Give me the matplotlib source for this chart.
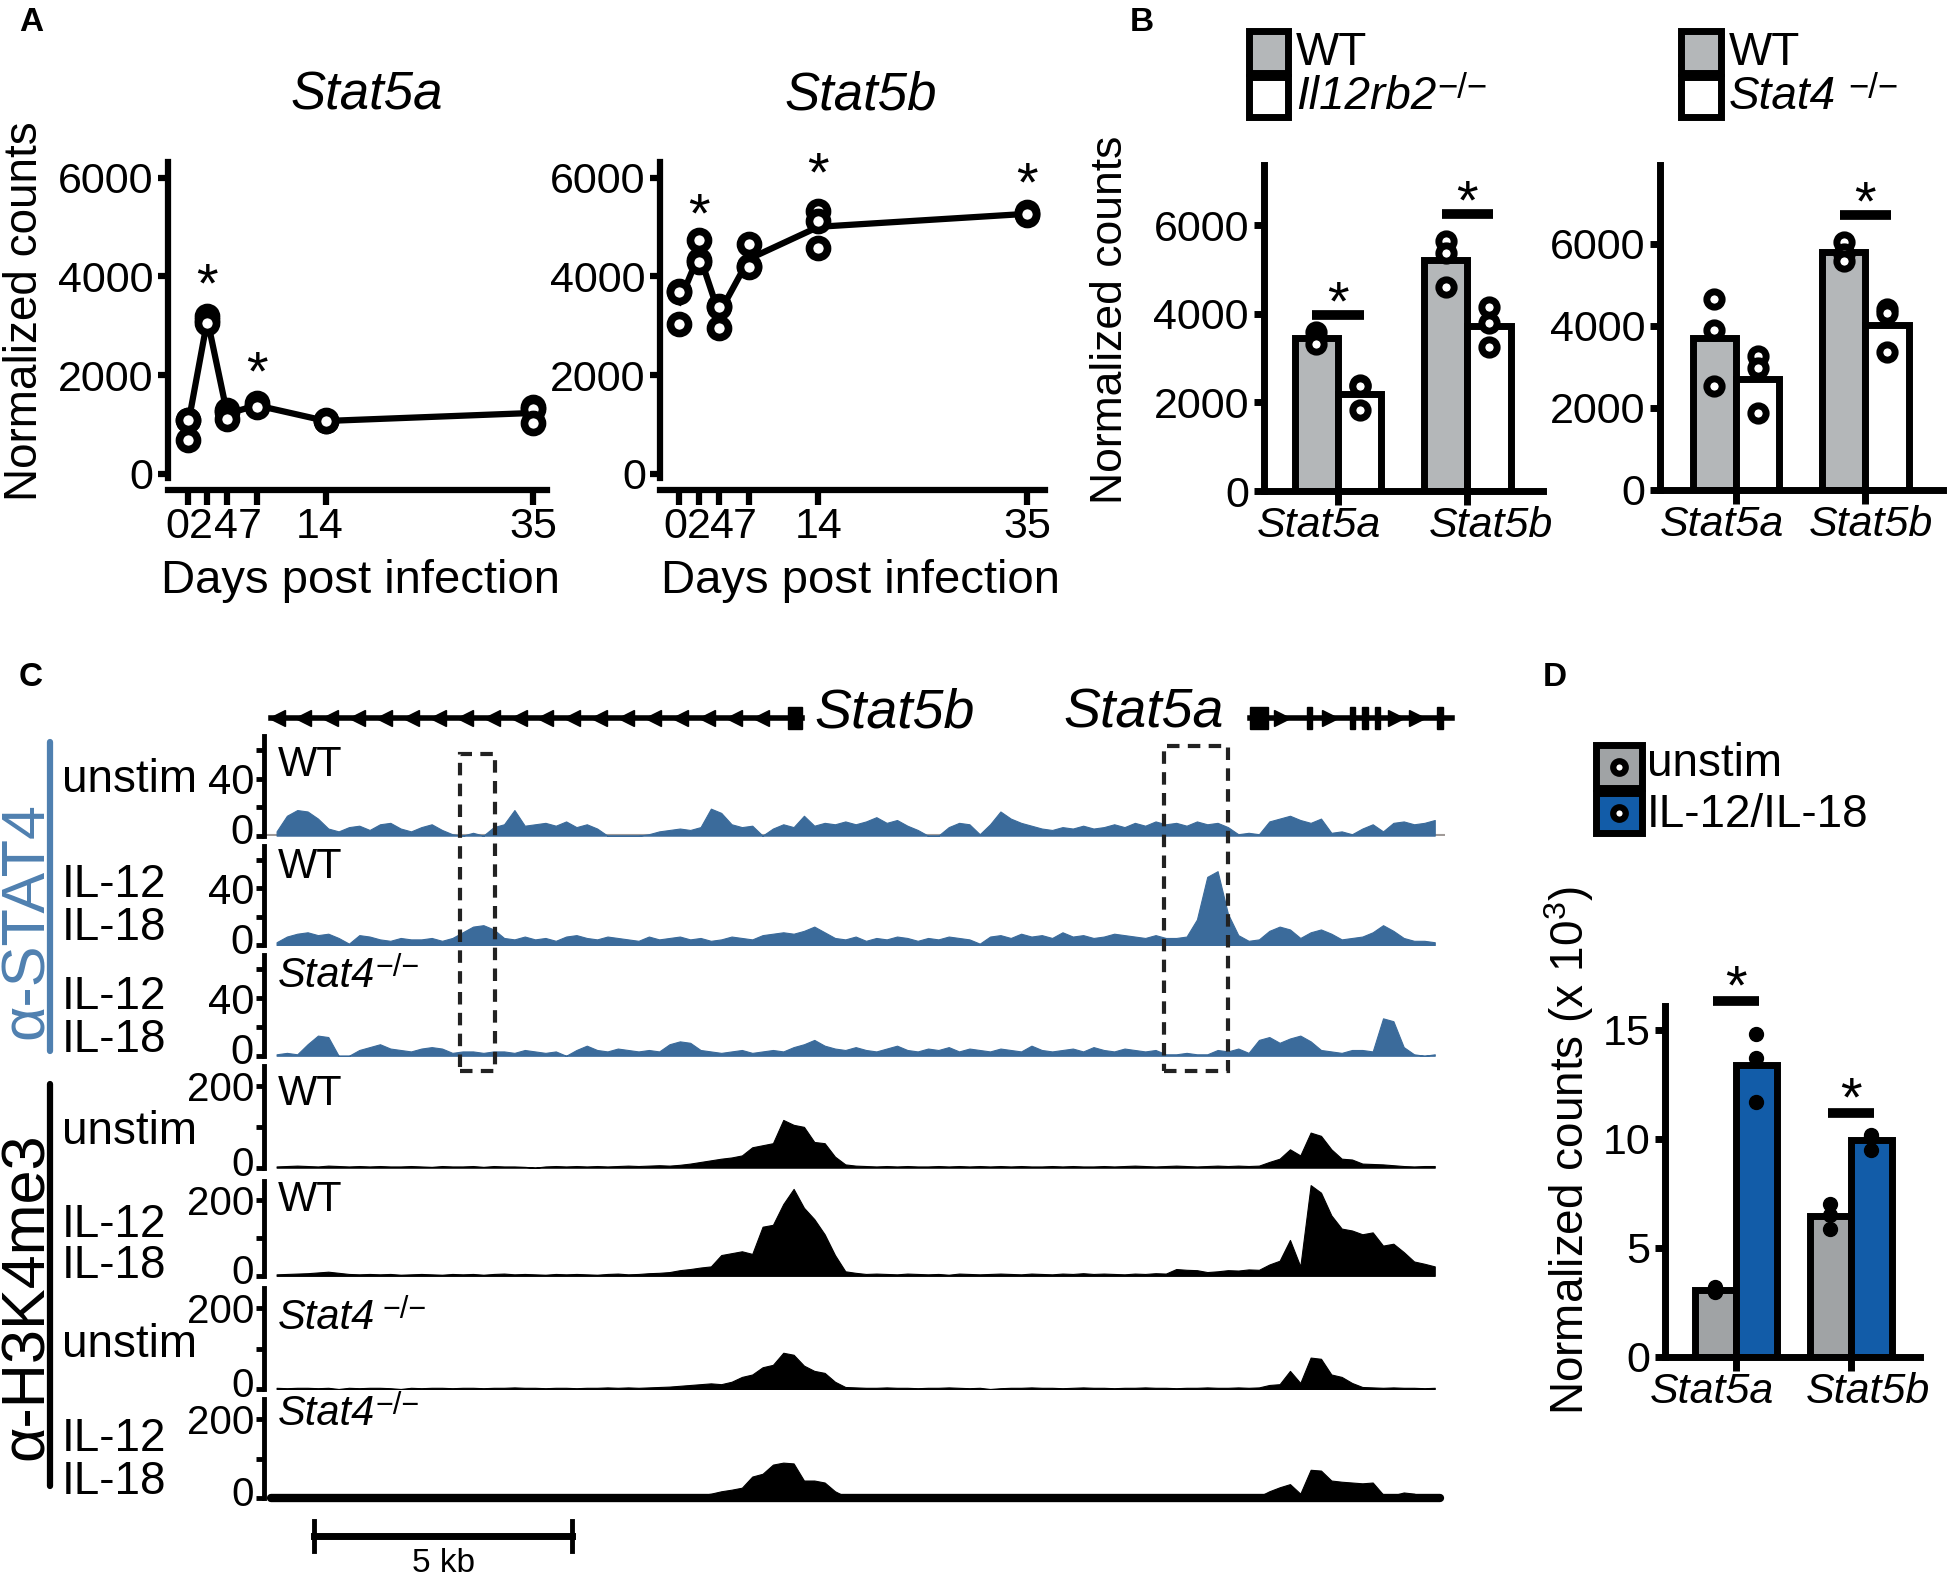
import numpy as np
import matplotlib
matplotlib.use("Agg")
import matplotlib.pyplot as plt
from matplotlib.patches import Rectangle
from matplotlib.lines import Line2D
from matplotlib.text import Annotation
from matplotlib.transforms import blended_transform_factory, ScaledTranslation

plt.rcParams['font.family'] = ['Liberation Sans', 'DejaVu Sans']
plt.rcParams['mathtext.fontset'] = 'custom'
plt.rcParams['mathtext.rm'] = 'Liberation Sans'
plt.rcParams['mathtext.it'] = 'Liberation Sans:italic'

# ---------------- data ----------------
# A: time course, normalized counts (3 replicates per day)
days = [0, 2, 4, 7, 14, 35]
a_stat5a = [[1100, 1080, 680], [3200, 3120, 3050], [1290, 1250, 1110],
            [1430, 1380, 1350], [1080, 1070, 1060], [1350, 1320, 1030]]
a_stat5b = [[3700, 3690, 3040], [4730, 4330, 4300], [3400, 3380, 2950],
            [4650, 4210, 4200], [5320, 5130, 4570], [5300, 5250, 5260]]
a_star_days_5a = [2, 7]
a_star_y_5a = [4150, 2370]
a_star_days_5b = [2, 14, 35]
a_star_y_5b = [5570, 6400, 6200]

# B: WT vs knockouts
genes = ['Stat5a', 'Stat5b']
b1_wt = [[3580, 3450, 3310], [5640, 5370, 4610]]
b1_ko = [[2400, 2370, 1835], [4150, 3800, 3250]]
b2_wt = [[4650, 3890, 2540], [6050, 5760, 5570]]
b2_ko = [[3260, 2975, 1870], [4410, 4320, 3360]]
b1_sig = [3970, 6250]
b2_sig = [None, 6700]

# D: unstim vs IL-12/IL-18 (x 10^3)
d_unstim = [[3.2, 3.0, 2.95], [7.0, 6.5, 5.86]]
d_il = [[14.8, 13.7, 11.7], [10.2, 9.5, 10.1]]
d_sig = [16.35, 11.2]

# C: coverage tracks, 0.2 kb bins
BIN = 0.2
stat4_wt_unstim = [
    3, 14, 18, 17, 12, 5, 3, 6, 7, 4,
    8, 9, 5, 3, 6, 8, 4, 1, 0, 2,
    0, 6, 8, 18, 7, 8, 9, 7, 10, 6,
    8, 5, 0, 0, 0, 0, 1, 3, 4, 5,
    4, 6, 19, 16, 8, 6, 7, 0, 5, 8,
    6, 14, 7, 9, 8, 10, 8, 10, 13, 9,
    11, 7, 4, 0, 0, 6, 9, 8, 1, 8,
    17, 12, 9, 7, 5, 4, 6, 5, 7, 5,
    6, 8, 6, 9, 7, 10, 8, 9, 7, 10,
    8, 9, 6, 1, 2, 1, 10, 12, 14, 11,
    9, 12, 2, 3, 1, 5, 8, 3, 9, 10,
    8, 9, 11]
stat4_wt_il = [
    2, 6, 8, 9, 7, 8, 5, 1, 7, 6,
    4, 3, 5, 4, 4, 5, 3, 5, 9, 13,
    14, 11, 5, 4, 6, 4, 5, 3, 6, 7,
    5, 4, 6, 5, 4, 3, 6, 4, 5, 6,
    4, 5, 3, 4, 6, 5, 4, 7, 8, 9,
    8, 10, 13, 9, 5, 4, 6, 3, 5, 4,
    6, 5, 3, 5, 4, 6, 5, 4, 1, 6,
    7, 5, 8, 6, 7, 5, 9, 6, 7, 5,
    6, 8, 7, 6, 5, 7, 5, 5, 6, 18,
    48, 52, 22, 7, 3, 4, 10, 13, 11, 5,
    9, 11, 8, 4, 5, 6, 9, 14, 10, 5,
    3, 3, 2]
stat4_ko_il = [
    1, 2, 1, 8, 14, 13, 0, 0, 4, 6,
    8, 5, 4, 3, 5, 6, 5, 2, 3, 3,
    2, 3, 3, 2, 4, 3, 2, 3, 0, 4,
    7, 4, 3, 5, 4, 3, 4, 3, 8, 10,
    9, 4, 3, 2, 3, 4, 2, 3, 4, 3,
    6, 8, 11, 7, 5, 4, 6, 4, 3, 5,
    7, 4, 3, 5, 4, 6, 3, 5, 4, 3,
    5, 4, 3, 7, 4, 3, 4, 5, 3, 6,
    4, 3, 5, 4, 3, 4, 1, 1, 2, 1,
    1, 4, 3, 5, 2, 11, 13, 9, 12, 14,
    10, 4, 3, 2, 4, 4, 3, 26, 24, 6,
    1, 0, 1]
h3_wt_unstim = [
    3, 4, 5, 4, 3, 5, 4, 3, 4, 3,
    4, 3, 3, 4, 3, 2, 4, 3, 3, 4,
    2, 4, 3, 3, 2, 0, 3, 4, 3, 4,
    3, 4, 3, 4, 5, 4, 5, 6, 5, 7,
    10, 14, 18, 22, 25, 30, 50, 55, 60, 117,
    105, 100, 63, 60, 27, 8, 5, 4, 3, 4,
    3, 4, 3, 3, 4, 3, 4, 3, 4, 3,
    4, 3, 4, 3, 3, 4, 3, 4, 3, 3,
    4, 3, 4, 5, 4, 3, 4, 5, 4, 3,
    4, 5, 4, 5, 4, 5, 14, 22, 45, 30,
    86, 78, 45, 22, 20, 10, 9, 8, 6, 4,
    3, 4, 4]
h3_wt_il = [
    4, 5, 6, 7, 9, 11, 8, 5, 4, 5,
    4, 5, 3, 4, 5, 4, 3, 5, 4, 5,
    3, 5, 6, 4, 5, 4, 3, 5, 4, 5,
    4, 3, 5, 6, 4, 5, 7, 8, 10, 15,
    18, 22, 25, 55, 60, 65, 58, 130, 135, 190,
    230, 180, 150, 110, 55, 12, 8, 5, 6, 5,
    4, 6, 5, 4, 5, 3, 6, 5, 4, 5,
    6, 5, 4, 6, 5, 4, 6, 5, 7, 5,
    6, 5, 4, 6, 5, 7, 6, 18, 16, 15,
    10, 12, 15, 14, 17, 16, 30, 40, 95, 25,
    240, 220, 160, 125, 120, 110, 115, 80, 85, 63,
    38, 32, 25]
h3_ko_unstim = [
    3, 2, 3, 3, 2, 3, 0, 3, 2, 3,
    3, 2, 0, 3, 2, 3, 3, 2, 3, 3,
    2, 3, 3, 4, 3, 3, 2, 3, 3, 2,
    3, 3, 4, 3, 4, 3, 4, 5, 6, 8,
    10, 12, 14, 12, 18, 30, 36, 54, 60, 90,
    85, 58, 45, 40, 18, 5, 4, 3, 3, 4,
    3, 3, 2, 3, 3, 4, 3, 2, 3, 0,
    2, 3, 3, 4, 3, 3, 2, 3, 4, 3,
    3, 2, 3, 3, 4, 3, 3, 2, 3, 3,
    4, 3, 3, 4, 3, 4, 10, 12, 45, 15,
    78, 75, 36, 30, 15, 5, 4, 3, 4, 3,
    3, 2, 3]
h3_ko_il = [
    1, 1, 0, 1, 1, 1, 0, 1, 1, 1,
    1, 0, 1, 1, 1, 1, 0, 1, 1, 1,
    1, 1, 0, 1, 1, 1, 1, 0, 1, 1,
    1, 1, 1, 1, 2, 2, 2, 3, 3, 4,
    5, 8, 12, 18, 22, 27, 55, 62, 85, 90,
    88, 45, 45, 40, 18, 5, 2, 1, 1, 1,
    1, 1, 0, 1, 1, 1, 1, 1, 0, 1,
    1, 1, 1, 1, 1, 0, 1, 1, 1, 1,
    1, 1, 1, 1, 0, 1, 1, 1, 1, 1,
    1, 1, 1, 2, 3, 5, 18, 28, 36, 12,
    72, 70, 45, 42, 40, 38, 40, 10, 8, 15,
    12, 3, 2]

# gene models (kb)
stat5b_span = (0.0, 10.26)
stat5b_exons = [(10.0, 10.26)]
stat5a_span = (18.92, 22.84)
stat5a_exons = [(18.92, 19.28), (20.02, 20.12), (20.86, 20.96),
                (21.10, 21.20), (21.34, 21.44), (22.55, 22.65)]
highlights = [(3.65, 4.33), (17.26, 18.51)]

# ---------------- layout helpers ----------------
W, H = 1568.0, 1273.0


def box(x0, y0, x1, y1):
    return [x0 / W, 1 - y1 / H, (x1 - x0) / W, (y1 - y0) / H]


def fx(x):
    return x / W


def fy(y):
    return 1 - y / H


GRAY_B = '#b4b7b9'
GRAY_D = '#a0a3a5'
BLUE_D = '#125ca8'
BLUE_T = '#3b6b9b'
BLUE_L = '#4f80b0'
KO = '\u2212/\u2212'

fig = plt.figure(figsize=(19.5, 15.83), dpi=100)


def style_axis(ax, lw=4.5, xlen=11, ylen=7.5, size=31):
    for s in ('top', 'right'):
        ax.spines[s].set_visible(False)
    for s in ('left', 'bottom'):
        ax.spines[s].set_linewidth(lw)
    ax.tick_params(axis='x', length=xlen, width=lw, labelsize=size, pad=1)
    ax.tick_params(axis='y', length=ylen, width=lw, labelsize=size, pad=3)
    ax.patch.set_visible(False)


def star(ax, x, y, size=40):
    ax.annotate('*', xy=(x, y), xytext=(0, -0.58 * size), textcoords='offset points',
                ha='center', va='baseline', fontsize=size, annotation_clip=False)


def shift_labels(labels, offsets, vertical=False):
    for lab, d in zip(labels, offsets):
        off = ScaledTranslation(0, d / 72, fig.dpi_scale_trans) if vertical else \
            ScaledTranslation(d / 72, 0, fig.dpi_scale_trans)
        lab.set_transform(lab.get_transform() + off)


def ko_text(x, y, name, size, supsize, gap=1):
    t = fig.text(fx(x), fy(y), name, fontsize=size, style='italic', va='center')
    fig.add_artist(Annotation(KO, xy=(1, 1), xycoords=t, xytext=(gap, 2),
                              textcoords='offset points', fontsize=supsize,
                              ha='left', va='top'))


# ---------------- panel A ----------------
def time_course(rect, reps, star_days, star_y, xlim, offsets):
    ax = fig.add_axes(rect)
    means = [np.mean(r) for r in reps]
    ax.plot(days, means, color='black', lw=4.5, zorder=2)
    for d, r in zip(days, reps):
        ax.plot([d] * len(r), r, 'o', ms=13, mfc='white', mec='black', mew=5.5,
                zorder=3, clip_on=False)
    for d, h in zip(star_days, star_y):
        star(ax, d, h)
    ax.set_xlim(*xlim)
    ax.set_ylim(-328, 6327)
    ax.set_xticks(days)
    ax.set_yticks([0, 2000, 4000, 6000])
    ax.spines['left'].set_bounds(-90, 6327)
    style_axis(ax)
    shift_labels(ax.get_xticklabels(), offsets)
    return ax


axA1 = time_course(box(135, 130, 440, 394), a_stat5a, a_star_days_5a, a_star_y_5a,
                   (-2.0, 36.4), [-7.2, -4.9, -0.9, -5.4, -4.5, 0])
axA2 = time_course(box(531, 130, 840, 394), a_stat5b, a_star_days_5b, a_star_y_5b,
                   (-1.9, 36.75), [-2.7, 0, 1.8, -2.7, 0, 0])
fig.text(fx(295), fy(77), 'Stat5a', fontsize=38, style='italic', ha='center', va='center')
fig.text(fx(692), fy(77), 'Stat5b', fontsize=38, style='italic', ha='center', va='center')
for xc in (290, 692):
    fig.text(fx(xc), fy(467), 'Days post infection', fontsize=34, ha='center', va='center')
fig.text(fx(20), fy(250), 'Normalized counts', fontsize=33, rotation=90, ha='center', va='center')


# ---------------- panel B / D bars ----------------
def grouped(rect, first, second, colors, width, sig, ylim, xlim, label_shift,
            open_dots=True, edge=5, yticks=(0, 2000, 4000, 6000), dot_size=11):
    ax = fig.add_axes(rect)
    x = np.arange(len(genes))
    for reps, off, col in ((first, -width / 2, colors[0]), (second, width / 2, colors[1])):
        means = [np.mean(r) for r in reps]
        ax.bar(x + off, means, width, color=col, edgecolor='black', lw=edge, zorder=2)
        for xi, r in zip(x + off, reps):
            if open_dots:
                ax.plot([xi] * len(r), r, 'o', ms=dot_size, mfc='white', mec='black',
                        mew=5, zorder=3, clip_on=False)
            else:
                ax.plot([xi] * len(r), r, 'o', ms=dot_size, color='black', zorder=3,
                        clip_on=False)
    for g, h in zip(x, sig):
        if h is None:
            continue
        ax.plot([g - 0.2, g + 0.2], [h, h], color='black', lw=7, solid_capstyle='butt',
                clip_on=False)
        star(ax, g, h + (ylim[1] - ylim[0]) * 0.085)
    ax.set_xlim(*xlim)
    ax.set_ylim(*ylim)
    ax.set_xticks(x)
    ax.set_xticklabels(genes, style='italic')
    ax.set_yticks(list(yticks))
    style_axis(ax, xlen=10, lw=edge)
    shift_labels(ax.get_xticklabels(), label_shift)
    return ax


axB1 = grouped(box(1016, 133, 1241, 395), b1_wt, b1_ko, (GRAY_B, 'white'), 0.335,
               b1_sig, (0, 7345), (-0.577, 1.587), [-14, 17])
axB2 = grouped(box(1335, 133, 1562, 394), b2_wt, b2_ko, (GRAY_B, 'white'), 0.335,
               b2_sig, (0, 7909), (-0.587, 1.596), [-10, 4])
fig.text(fx(893), fy(257), 'Normalized counts', fontsize=32, rotation=90, ha='center', va='center')


def legend_square(x0, y0, x1, y1, color, dot=False):
    fig.add_artist(Rectangle((fx(x0), fy(y1)), (x1 - x0) / W, (y1 - y0) / H,
                             transform=fig.transFigure, facecolor=color,
                             edgecolor='black', lw=5))
    if dot:
        fig.add_artist(Line2D([fx((x0 + x1) / 2)], [fy((y0 + y1) / 2)],
                              transform=fig.transFigure, marker='o', ms=9,
                              mfc='white', mec='black', mew=4.5))


for xl, name, gap in ((1004, 'Il12rb2', 1), (1352, 'Stat4', 9)):
    legend_square(xl, 25, xl + 32, 59, GRAY_B)
    legend_square(xl, 62, xl + 32, 94, 'white')
    fig.text(fx(xl + 38), fy(43), 'WT', fontsize=33, va='center')
    ko_text(xl + 38, 78, name, 33, 25, gap)

axD = grouped(box(1339, 809, 1544, 1091), d_unstim, d_il, (GRAY_D, BLUE_D), 0.355,
              d_sig, (0, 16.1), (-0.61, 1.6), [-17, 12], open_dots=False,
              yticks=(0, 5, 10, 15), dot_size=10)
fig.text(fx(1262), fy(925), 'Normalized counts (x 10$^3$)', fontsize=33, rotation=90,
         ha='center', va='center')
legend_square(1283, 599, 1320, 634, GRAY_D, dot=True)
legend_square(1283, 638, 1320, 670, BLUE_D, dot=True)
fig.text(fx(1324), fy(614), 'unstim', fontsize=33, va='center')
fig.text(fx(1324), fy(655), 'IL-12/IL-18', fontsize=33, va='center')

# ---------------- panel C ----------------
XLIM = (-0.15, 22.7)
gax = fig.add_axes(box(212, 555, 1162, 600))
gax.set_xlim(*XLIM)
gax.set_ylim(-1, 1)
gax.axis('off')
gax.plot(stat5b_span, [0, 0], color='black', lw=4, clip_on=False)
gax.plot(np.arange(0.1, stat5b_exons[0][0] - 0.2, 0.52), np.zeros(19), '<', color='black',
         ms=11, clip_on=False)
gax.plot(stat5a_span, [0, 0], color='black', lw=4, clip_on=False)
for ex0, ex1 in stat5b_exons + stat5a_exons:
    gax.add_patch(Rectangle((ex0, -0.4), ex1 - ex0, 0.8, color='black', clip_on=False))
gax.plot([19.55, 20.48, 21.75, 22.15], [0, 0, 0, 0], '>', color='black', ms=11, clip_on=False)
fig.text(fx(655), fy(574), 'Stat5b', fontsize=40, style='italic', va='center')
fig.text(fx(855), fy(574), 'Stat5a', fontsize=40, style='italic', va='center')

track_data = [stat4_wt_unstim, stat4_wt_il, stat4_ko_il,
              h3_wt_unstim, h3_wt_il, h3_ko_unstim, h3_ko_il]
track_colors = [BLUE_T] * 3 + ['black'] * 4
track_rows = [(592, 672), (680, 760), (768, 849), (857, 939), (950, 1026), (1036, 1117),
              (1125, 1205)]
geno_ko = [False, False, True, False, False, True, True]
geno_y = [615, 697, 785, 880, 965, 1060, 1137]
cond = [['unstim'], ['IL-12', 'IL-18'], ['IL-12', 'IL-18'], ['unstim'],
        ['IL-12', 'IL-18'], ['unstim'], ['IL-12', 'IL-18']]
cond_y = [[627], [712, 746], [802, 836], [910], [985, 1018], [1082], [1157, 1192]]

track_axes = []
for i, vals in enumerate(track_data):
    top, base = track_rows[i]
    ax = fig.add_axes(box(212, top, 1162, base))
    stat4 = i < 3
    ymax = 70 if stat4 else 250
    v = np.asarray(vals, dtype=float)
    xc = (np.arange(len(v)) + 0.5) * BIN
    ax.fill_between(xc, v, color=track_colors[i], lw=0.8, edgecolor=track_colors[i])
    if i == 0:
        ax.axhline(0.3, color='#a09a98', lw=1.5, zorder=0)
    if i == 6:
        ax.plot([0, len(v) * BIN], [0, 0], color='black', lw=6, solid_capstyle='round',
                clip_on=False)
    ax.set_xlim(*XLIM)
    ax.set_ylim(0, ymax)
    ax.patch.set_visible(False)
    for s in ('top', 'right', 'bottom'):
        ax.spines[s].set_visible(False)
    ax.spines['left'].set_linewidth(3.5)
    ax.set_xticks([])
    if stat4:
        ax.set_yticks([0, 20, 40, 60])
        ax.set_yticklabels(['0', '', '40', ''])
        ax.tick_params(axis='y', length=6, width=3.5, labelsize=30, pad=1)
        shift_labels(ax.get_yticklabels(), [5, 0, 0, 0], vertical=True)
    else:
        ax.set_yticks([0, 100, 200])
        ax.set_yticklabels(['0', '', '200'])
        ax.tick_params(axis='y', length=6, width=3.5, labelsize=29, pad=1)
        shift_labels(ax.get_yticklabels(), [5, 0, 0], vertical=True)
    if geno_ko[i]:
        ko_text(223, geno_y[i], 'Stat4', 30, 22, 6 if i == 5 else 1)
    else:
        fig.text(fx(223), fy(geno_y[i]), 'WT', fontsize=30, va='center')
    for txt, yy in zip(cond[i], cond_y[i]):
        fig.text(fx(50), fy(yy), txt, fontsize=33, va='center')
    track_axes.append(ax)

# highlight boxes over STAT4 tracks
tr = blended_transform_factory(track_axes[0].transData, fig.transFigure)
for (x0, x1), (yt, yb) in zip(highlights, [(606, 861), (600, 861)]):
    fig.add_artist(Rectangle((x0, fy(yb)), x1 - x0, (yb - yt) / H, transform=tr, fill=False,
                             edgecolor='#222222', lw=3, ls=(0, (3, 2))))

# scale bar
fig.add_artist(Line2D([0.82, 5.82], [fy(1235)] * 2, transform=tr, color='black', lw=5))
for xb in (0.82, 5.82):
    fig.add_artist(Line2D([xb, xb], [fy(1223), fy(1247)], transform=tr, color='black', lw=3.5))
fig.text(3.32, fy(1257), '5 kb', transform=tr, fontsize=24, ha='center', va='center')

# antibody brackets
fig.add_artist(Line2D([fx(40)] * 2, [fy(597), fy(845)], transform=fig.transFigure,
                      color=BLUE_L, lw=4.5, solid_capstyle='round'))
fig.text(fx(22), fy(740), 'α-STAT4', rotation=90, color=BLUE_L, fontsize=44,
         ha='center', va='center')
fig.add_artist(Line2D([fx(40)] * 2, [fy(872), fy(1195)], transform=fig.transFigure,
                      color='black', lw=4.5, solid_capstyle='round'))
fig.text(fx(22), fy(1042), 'α-H3K4me3', rotation=90, color='black', fontsize=44,
         ha='center', va='center')

# panel letters
for letter, (xl, yl) in zip('ABCD', [(25, 18), (918, 18), (25, 545), (1250, 545)]):
    fig.text(fx(xl), fy(yl), letter, fontsize=24, weight='bold', ha='center', va='center')

fig.savefig('out.png', dpi=100)
